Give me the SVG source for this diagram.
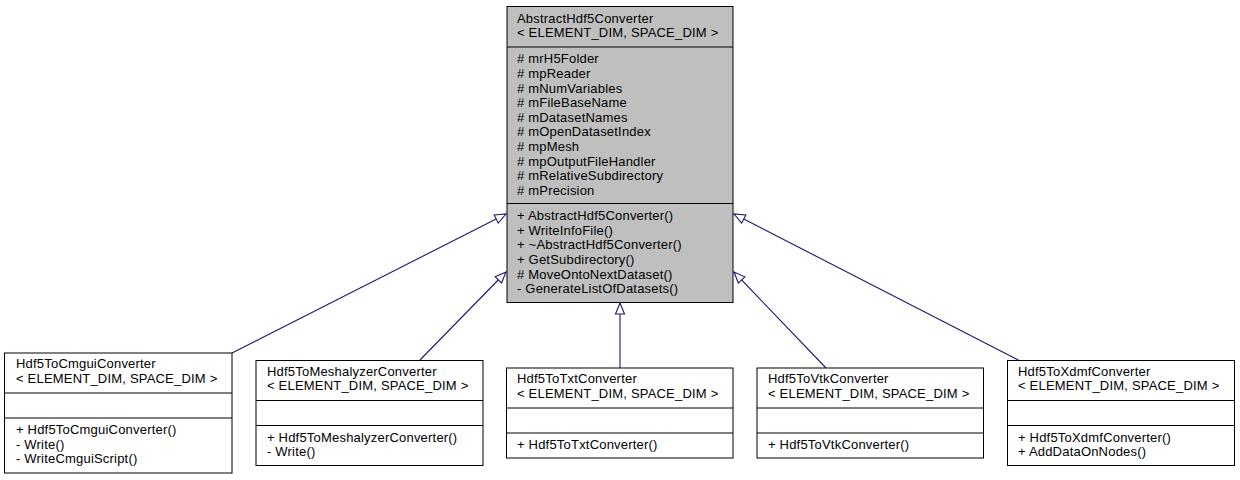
<svg xmlns="http://www.w3.org/2000/svg" width="1240" height="480" viewBox="0 0 1240 480">
<style>
text{font-family:"Liberation Sans",Arial,sans-serif;font-size:13px;letter-spacing:0.2px;fill:#000}
.box{fill:#fff;stroke:#000;stroke-width:1}
.base{fill:#bfbfbf;stroke:#000;stroke-width:1}
.div{stroke:#000;stroke-width:1}
.edge{fill:none;stroke:#191970;stroke-width:1.1}
</style>
<defs>
<marker id="inh" markerUnits="userSpaceOnUse" markerWidth="16" markerHeight="12" viewBox="-1 -6 14 12" refX="11" refY="0" orient="auto">
<path d="M0,-4.5 L11,0 L0,4.5 Z" fill="#fff" stroke="#191970" stroke-width="1.1"/>
</marker>
</defs>
<rect width="1240" height="480" fill="#fff"/>
<g id="connectors">
<path class="edge" d="M232,353 L506,214" marker-end="url(#inh)"/>
<path class="edge" d="M419,361 L506,272" marker-end="url(#inh)"/>
<path class="edge" d="M620,368 L620,303" marker-end="url(#inh)"/>
<path class="edge" d="M826,368 L734,272" marker-end="url(#inh)"/>
<path class="edge" d="M1020,361 L734,214" marker-end="url(#inh)"/>
</g>
<g id="AbstractHdf5Converter">
<rect class="base" x="507" y="6.5" width="226" height="296"/>
<line class="div" x1="507" y1="47" x2="733" y2="47"/>
<line class="div" x1="507" y1="203.5" x2="733" y2="203.5"/>
<text x="517" y="22.7">AbstractHdf5Converter</text>
<text x="517" y="37.3">&lt; ELEMENT_DIM, SPACE_DIM &gt;</text>
<text x="517" y="63.3"># mrH5Folder</text>
<text x="517" y="77.9"># mpReader</text>
<text x="517" y="92.5"># mNumVariables</text>
<text x="517" y="107.2"># mFileBaseName</text>
<text x="517" y="121.8"># mDatasetNames</text>
<text x="517" y="136.4"># mOpenDatasetIndex</text>
<text x="517" y="151.1"># mpMesh</text>
<text x="517" y="165.7"># mpOutputFileHandler</text>
<text x="517" y="180.3"># mRelativeSubdirectory</text>
<text x="517" y="195"># mPrecision</text>
<text x="517" y="220">+ AbstractHdf5Converter()</text>
<text x="517" y="234.7">+ WriteInfoFile()</text>
<text x="517" y="249.3">+ ~AbstractHdf5Converter()</text>
<text x="517" y="264">+ GetSubdirectory()</text>
<text x="517" y="278.6"># MoveOntoNextDataset()</text>
<text x="517" y="293.3">- GenerateListOfDatasets()</text>
</g>
<g id="Hdf5ToCmguiConverter">
<rect class="box" x="4.5" y="353" width="227.5" height="120"/>
<line class="div" x1="4.5" y1="393" x2="232" y2="393"/>
<line class="div" x1="4.5" y1="418" x2="232" y2="418"/>
<text x="16" y="368">Hdf5ToCmguiConverter</text>
<text x="16" y="382.6">&lt; ELEMENT_DIM, SPACE_DIM &gt;</text>
<text x="16" y="434">+ Hdf5ToCmguiConverter()</text>
<text x="16" y="448.6">- Write()</text>
<text x="16" y="463.2">- WriteCmguiScript()</text>
</g>
<g id="Hdf5ToMeshalyzerConverter">
<rect class="box" x="256" y="360.5" width="227" height="105"/>
<line class="div" x1="256" y1="400.5" x2="483" y2="400.5"/>
<line class="div" x1="256" y1="425.5" x2="483" y2="425.5"/>
<text x="267" y="375.5">Hdf5ToMeshalyzerConverter</text>
<text x="267" y="390.1">&lt; ELEMENT_DIM, SPACE_DIM &gt;</text>
<text x="267" y="441.5">+ Hdf5ToMeshalyzerConverter()</text>
<text x="267" y="456.1">- Write()</text>
</g>
<g id="Hdf5ToTxtConverter">
<rect class="box" x="506.5" y="368" width="226.5" height="90"/>
<line class="div" x1="506.5" y1="408" x2="733" y2="408"/>
<line class="div" x1="506.5" y1="433" x2="733" y2="433"/>
<text x="517" y="383">Hdf5ToTxtConverter</text>
<text x="517" y="397.6">&lt; ELEMENT_DIM, SPACE_DIM &gt;</text>
<text x="517" y="449">+ Hdf5ToTxtConverter()</text>
</g>
<g id="Hdf5ToVtkConverter">
<rect class="box" x="757" y="368" width="226.5" height="90"/>
<line class="div" x1="757" y1="408" x2="983.5" y2="408"/>
<line class="div" x1="757" y1="433" x2="983.5" y2="433"/>
<text x="768" y="383">Hdf5ToVtkConverter</text>
<text x="768" y="397.6">&lt; ELEMENT_DIM, SPACE_DIM &gt;</text>
<text x="768" y="449">+ Hdf5ToVtkConverter()</text>
</g>
<g id="Hdf5ToXdmfConverter">
<rect class="box" x="1007.5" y="360.5" width="227" height="105"/>
<line class="div" x1="1007.5" y1="400.5" x2="1234.5" y2="400.5"/>
<line class="div" x1="1007.5" y1="425.5" x2="1234.5" y2="425.5"/>
<text x="1018" y="375.5">Hdf5ToXdmfConverter</text>
<text x="1018" y="390.1">&lt; ELEMENT_DIM, SPACE_DIM &gt;</text>
<text x="1018" y="441.5">+ Hdf5ToXdmfConverter()</text>
<text x="1018" y="456.1">+ AddDataOnNodes()</text>
</g>
</svg>
